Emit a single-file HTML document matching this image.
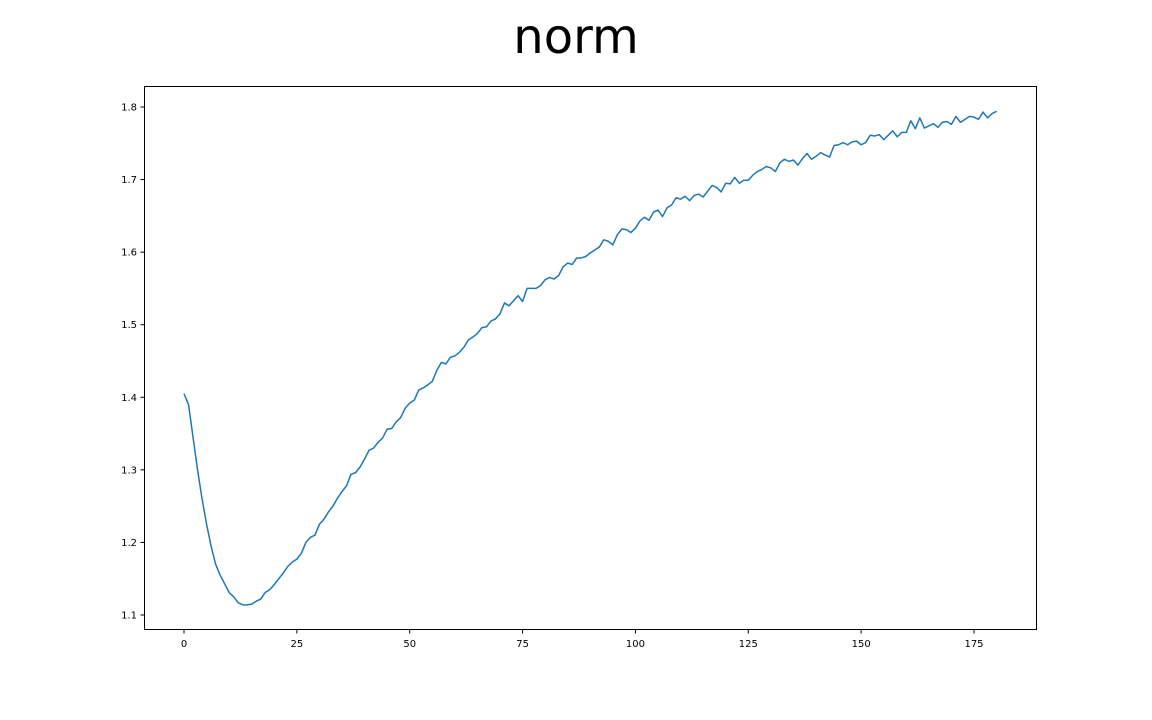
<!DOCTYPE html>
<html><head><meta charset="utf-8"><style>
html,body{margin:0;padding:0;background:#fff;}
svg{display:block;font-family:"DejaVu Sans","Liberation Sans",sans-serif;}
</style></head><body>
<svg id="chart" width="1152" height="720">
<text x="576" y="53" text-anchor="middle" font-size="48">norm</text>
<rect x="144.5" y="86.5" width="892" height="543" fill="none" stroke="#000" stroke-width="1"/>
<g id="xt"></g>
<g id="yt"></g>
<path id="line" fill="none" stroke="#1f77b4" stroke-width="1.5" stroke-linejoin="round"/>
</svg>
<script>
const xTicks=[0,25,50,75,100,125,150,175];
const yTicks=[1.1,1.2,1.3,1.4,1.5,1.6,1.7,1.8];
const yTickLabels=["1.1","1.2","1.3","1.4","1.5","1.6","1.7","1.8"];
const normValues=[1.405,1.39,1.345,1.30,1.26,1.225,1.195,1.17,1.155,1.143,1.131,1.125,1.117,1.114,1.114,1.115,1.119,1.122,1.131,1.135,1.142,1.150,1.158,1.167,1.173,1.177,1.185,1.200,1.207,1.210,1.225,1.232,1.242,1.250,1.261,1.270,1.278,1.294,1.296,1.304,1.315,1.327,1.330,1.338,1.344,1.356,1.357,1.366,1.372,1.385,1.392,1.396,1.410,1.413,1.417,1.422,1.437,1.448,1.446,1.455,1.457,1.462,1.469,1.479,1.483,1.488,1.496,1.497,1.505,1.508,1.515,1.530,1.526,1.533,1.540,1.532,1.550,1.550,1.550,1.554,1.562,1.565,1.563,1.568,1.580,1.585,1.583,1.592,1.592,1.594,1.599,1.603,1.607,1.617,1.615,1.610,1.624,1.632,1.631,1.627,1.633,1.643,1.648,1.644,1.655,1.658,1.649,1.661,1.665,1.675,1.673,1.677,1.671,1.678,1.680,1.676,1.684,1.692,1.689,1.683,1.695,1.694,1.703,1.695,1.699,1.699,1.706,1.711,1.714,1.718,1.716,1.711,1.723,1.728,1.725,1.727,1.720,1.729,1.736,1.728,1.732,1.737,1.734,1.731,1.747,1.748,1.751,1.748,1.752,1.753,1.748,1.751,1.761,1.760,1.762,1.755,1.761,1.767,1.759,1.765,1.765,1.781,1.770,1.785,1.771,1.774,1.777,1.772,1.779,1.780,1.776,1.787,1.779,1.783,1.787,1.786,1.783,1.793,1.785,1.791,1.794];

const xs=v=>184+v*(790/175);
const ys=v=>107+(1.8-v)*725.7;
const NS="http://www.w3.org/2000/svg";
const xt=document.getElementById('xt'), yt=document.getElementById('yt');
xTicks.forEach(t=>{
  const l=document.createElementNS(NS,'line');
  l.setAttribute('x1',xs(t));l.setAttribute('x2',xs(t));l.setAttribute('y1',630);l.setAttribute('y2',633.5);l.setAttribute('stroke','#000');
  
  
  xt.appendChild(l);
  const tx=document.createElementNS(NS,'text');
  tx.setAttribute('x',xs(t));tx.setAttribute('y',647);tx.setAttribute('text-anchor','middle');tx.setAttribute('font-size','10');
  tx.textContent=t;
  
  
  xt.appendChild(tx);
});
yTicks.forEach((t,i)=>{
  const l=document.createElementNS(NS,'line');
  l.setAttribute('x1',140.5);l.setAttribute('x2',144);l.setAttribute('y1',ys(t));l.setAttribute('y2',ys(t));l.setAttribute('stroke','#000');
  
  
  yt.appendChild(l);
  const tx=document.createElementNS(NS,'text');
  tx.setAttribute('x',137);tx.setAttribute('y',ys(t)+3.5);tx.setAttribute('text-anchor','end');tx.setAttribute('font-size','10');
  tx.textContent=yTickLabels[i];
  
  
  yt.appendChild(tx);
});
document.getElementById('line').setAttribute('d',normValues.map((v,i)=>(i?'L':'M')+xs(i).toFixed(2)+','+ys(v).toFixed(2)).join(''));
</script>
</body></html>
